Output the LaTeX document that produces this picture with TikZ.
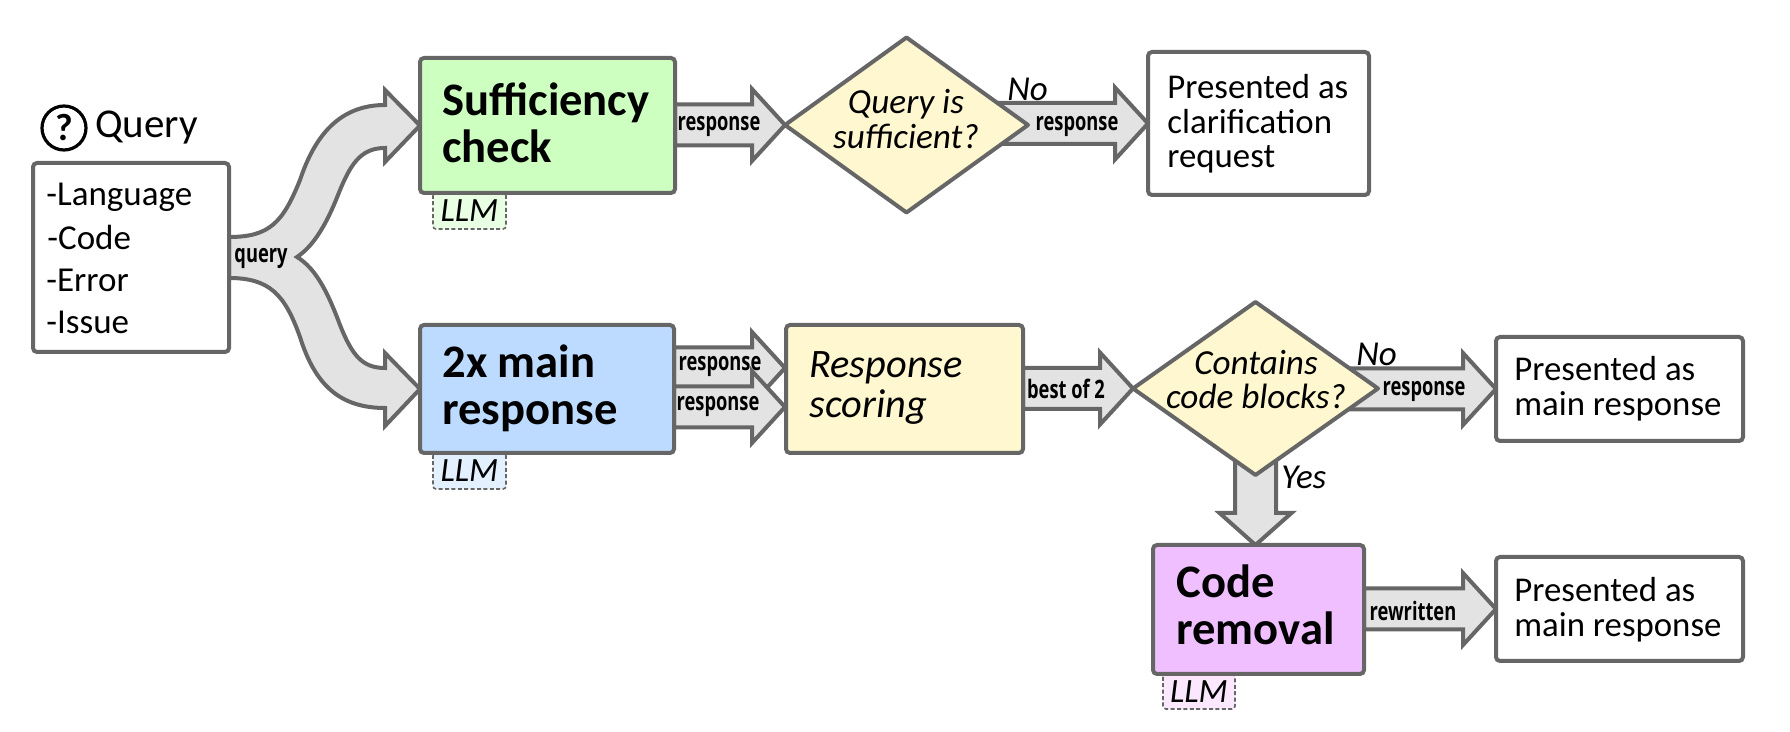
\documentclass[tikz,border=0pt]{standalone}
\usepackage{fontspec}
\setmainfont{Carlito}
\newfontfamily\lab[FakeStretch=0.72]{Open Sans}
\usetikzlibrary{shapes.geometric,backgrounds,calc}
\definecolor{ln}{HTML}{666666}
\definecolor{arrowfill}{HTML}{E3E3E3}
\definecolor{cgreen}{HTML}{CCFFC0}
\definecolor{cblue}{HTML}{BDDBFF}
\definecolor{cyellow}{HTML}{FFF7CF}
\definecolor{cpurple}{HTML}{EFBFFF}
\definecolor{lgreen}{HTML}{E9FFE3}
\definecolor{lblue}{HTML}{E3F0FF}
\definecolor{lpurple}{HTML}{FBE8FF}
\newcommand\fs[1]{\fontsize{#1}{#1}\selectfont}
\tikzset{
  x=0.5pt,y=-0.5pt,
  boxed/.style={draw=ln,line width=2pt,rounded corners=2pt,rectangle,inner sep=0pt,outer sep=0pt},
  llmbox/.style={draw=ln,line width=0.8pt,dash pattern=on 2pt off 1.2pt,rounded corners=1.5pt,rectangle,inner sep=0pt,outer sep=0pt,font=\fs{17}\itshape},
  decision/.style={diamond,draw=ln,line width=2pt,fill=cyellow,line join=round,inner sep=0pt,outer sep=0pt,aspect=1.4},
  barrow/.style={draw=ln,line width=2pt,fill=arrowfill,line join=miter,miter limit=4},
  txt/.style={anchor=base west,inner sep=0pt,font=\fs{17.4}},
  listtxt/.style={anchor=base west,inner sep=0pt,font=\fs{17.5}},
  headtxt/.style={anchor=base west,inner sep=0pt,font=\fs{23.3}\bfseries},
  ital/.style={anchor=base west,inner sep=0pt,font=\fs{20.2}\itshape},
  dtxt/.style={anchor=base,inner sep=0pt,font=\fs{17.6}\itshape},
  tag/.style={anchor=base west,inner sep=0pt,font=\fs{17.5}\itshape},
  small/.style={inner sep=0pt,font=\lab\bfseries\fs{12.7}},
}
\newcommand\bx[6]{%
  \pgfmathsetmacro\cxx{(#2+#4)/2}\pgfmathsetmacro\cyy{(#3+#5)/2}%
  \node[#6,minimum width={(#4-#2)*0.5},minimum height={(#5-#3)*0.5}] (#1) at (\cxx,\cyy) {};}
\newcommand\llm[6]{%
  \pgfmathsetmacro\cxx{(#3+#5)/2}\pgfmathsetmacro\cyy{(#4+#6)/2}%
  \node[llmbox,fill=#2,minimum width={(#5-#3)*0.5},minimum height={(#6-#4)*0.5}] (#1) at (\cxx,\cyy) {\raisebox{-0.6pt}{LLM}};}
% horizontal block arrow: leaves #1, tip at #2
\newcommand\harrow[2]{%
  \draw[barrow] let \p1=(#1),\p2=(#2) in
    (\x1,\y2+10.25pt) -- (\x2-16.5pt,\y2+10.25pt) -- (\x2-16.5pt,\y2+18pt) -- (\x2,\y2)
    -- (\x2-16.5pt,\y2-18pt) -- (\x2-16.5pt,\y2-10.25pt) -- (\x1,\y2-10.25pt) -- cycle;}
% vertical block arrow: leaves #1, tip at #2
\newcommand\varrow[2]{%
  \draw[barrow] let \p1=(#1),\p2=(#2) in
    (\x2-10.25pt,\y1) -- (\x2-10.25pt,\y2+16pt) -- (\x2-18pt,\y2+16pt) -- (\x2,\y2)
    -- (\x2+18pt,\y2+16pt) -- (\x2+10.25pt,\y2+16pt) -- (\x2+10.25pt,\y1) -- cycle;}
\begin{document}
\begin{tikzpicture}
\useasboundingbox (0,0) rectangle (1790,732);
% LLM tags
\llm{llma}{lgreen}{433}{193}{506}{229}
\llm{llmb}{lblue}{433}{453}{506}{489}
\llm{llmc}{lpurple}{1163}{674}{1235}{709}
% boxes
\bx{q}{33}{163}{229}{352}{boxed,fill=white}
\bx{suff}{420}{58}{675}{193}{boxed,fill=cgreen}
\bx{main}{420}{325}{674}{453}{boxed,fill=cblue}
\bx{score}{786}{325}{1023}{453}{boxed,fill=cyellow}
\bx{code}{1153}{545}{1364}{674}{boxed,fill=cpurple}
\bx{pa}{1148}{52}{1369}{195}{boxed,fill=white}
\bx{pb}{1496}{337}{1743}{441}{boxed,fill=white}
\bx{pc}{1496}{557}{1743}{661}{boxed,fill=white}
\node[decision,minimum width=121.5pt,minimum height=87.5pt] (da) at (906.5,125) {};
\node[decision,minimum width=122.5pt,minimum height=86.5pt] (db) at (1255.5,388.5) {};
% tips of the two parallel arrows
\coordinate (tipA) at (785,368);
\coordinate (tipB) at (785,407);
\coordinate (tipD) at (db |- code.north);
% block arrows behind the nodes
\begin{scope}[on background layer]
\harrow{suff.east}{da.west}
\harrow{da.center}{pa.west}
\harrow{main.east}{tipA}
\harrow{main.east}{tipB}
\harrow{score.east}{db.west}
\harrow{db.center}{pb.west}
\harrow{code.east}{pc.west}
\varrow{db.center}{tipD}
% forked arrow
\draw[barrow] (229,237) .. controls (270,237) and (283,222) .. (300,180)
  .. controls (315,135) and (340,105) .. (385,105) -- (385,90) -- (suff.west)
  -- (385,162) -- (385,148) .. controls (360,148) and (350,165) .. (338,195)
  .. controls (325,228) and (312,247) .. (297,257)
  .. controls (315,268) and (327,290) .. (340,325)
  .. controls (352,355) and (362,368) .. (385,368) -- (385,353) -- (main.west)
  -- (385,426) -- (385,408) .. controls (340,408) and (315,385) .. (300,337)
  .. controls (285,295) and (270,278) .. (229,278) -- cycle;
\end{scope}
% query title
\node[circle,draw=black,line width=1.6pt,minimum size=22pt,inner sep=0pt,outer sep=0pt,font=\fs{19}\bfseries] (qicon) at (64,128) {?};
\node[anchor=base west,inner sep=0pt,font=\fs{20.5}] (qtitle) at (95,138) {Query};
% query fields
\node[listtxt] (f1) at (46,206) {-Language};
\node[listtxt] (f2) at (47,250) {-Code};
\node[listtxt] (f3) at (46,292) {-Error};
\node[listtxt] (f4) at (46,334) {-Issue};
% block titles
\node[headtxt] (t1a) at (442,116) {Sufficiency};
\node[headtxt] (t1b) at (442,163) {check};
\node[headtxt] (t2a) at (442,378) {2x main};
\node[headtxt] (t2b) at (442,425) {response};
\node[headtxt] (t3a) at (1176,598) {Code};
\node[headtxt] (t3b) at (1176,645) {removal};
\node[ital] (t4a) at (809,378) {Response};
\node[ital] (t4b) at (809,418) {scoring};
% decisions
\node[dtxt] (d1a) at (906,114) {Query is};
\node[dtxt] (d1b) at (906,149) {sufficient?};
\node[dtxt] (d2a) at (1256,375) {Contains};
\node[dtxt] (d2b) at (1256,409) {code blocks?};
\node[tag] (noa) at (1007,101) {No};
\node[tag] (nob) at (1356,366) {No};
\node[tag] (yes) at (1281,489) {Yes};
% results
\node[txt] (r1a) at (1167,99) {Presented as};
\node[txt] (r1b) at (1167,134) {clarification};
\node[txt] (r1c) at (1167,168) {request};
\node[txt] (r2a) at (1514,381) {Presented as};
\node[txt] (r2b) at (1514,416) {main response};
\node[txt] (r3a) at (1514,602) {Presented as};
\node[txt] (r3b) at (1514,637) {main response};
% arrow labels
\node[small] (l0) at (261,258) {query};
\node[small] (l1) at (719,126) {response};
\node[small] (l2) at (1077,126) {response};
\node[small] (l3) at (720,366) {response};
\node[small] (l4) at (718,406) {response};
\node[small] (l5) at (1066,389) {best of 2};
\node[small] (l6) at (1424,391) {response};
\node[small] (l7) at (1413,611) {rewritten};
\end{tikzpicture}
\end{document}
